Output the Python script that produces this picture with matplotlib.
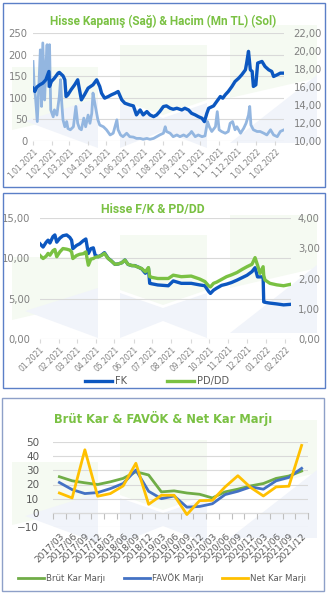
import matplotlib
matplotlib.use("Agg")
import matplotlib.pyplot as plt
import matplotlib.dates as mdates
from matplotlib.patches import Rectangle, Polygon
from matplotlib.ticker import FuncFormatter, FixedLocator
import pandas as pd

# ---- panel 1: closing price (right) & volume (left) ----
price_dates = [
    "2021-01-01", "2021-01-04", "2021-01-07", "2021-01-12", "2021-01-17", "2021-01-22",
    "2021-01-27", "2021-01-28", "2021-01-31", "2021-02-05", "2021-02-11", "2021-02-13",
    "2021-02-19", "2021-02-22", "2021-02-24", "2021-02-27", "2021-03-04", "2021-03-10",
    "2021-03-15", "2021-03-21", "2021-03-26", "2021-04-01", "2021-04-09", "2021-04-15",
    "2021-04-20", "2021-04-23", "2021-04-28", "2021-05-04", "2021-05-09", "2021-05-15",
    "2021-05-20", "2021-05-26", "2021-05-31", "2021-06-08", "2021-06-14", "2021-06-19",
    "2021-06-25", "2021-06-30", "2021-07-06", "2021-07-11", "2021-07-17", "2021-07-22",
    "2021-07-27", "2021-08-02", "2021-08-07", "2021-08-13", "2021-08-18", "2021-08-24",
    "2021-09-01", "2021-09-06", "2021-09-12", "2021-09-17", "2021-09-23", "2021-09-28",
    "2021-10-04", "2021-10-08", "2021-10-12", "2021-10-15", "2021-10-23", "2021-10-28",
    "2021-11-03", "2021-11-07", "2021-11-11", "2021-11-16", "2021-11-22", "2021-11-27",
    "2021-12-03", "2021-12-08", "2021-12-14", "2021-12-16", "2021-12-19", "2021-12-22",
    "2021-12-25", "2021-12-27", "2021-12-31", "2022-01-03", "2022-01-10", "2022-01-15",
    "2022-01-21", "2022-01-26", "2022-01-29", "2022-02-04", "2022-02-09", "2022-02-15",
]
close_price = [
    15.87, 15.50, 15.98, 16.24, 16.43, 16.80, 17.73, 16.06, 16.61, 16.98, 17.54, 17.62,
    17.24, 16.80, 14.94, 15.13, 15.68, 16.24, 16.80, 14.57, 15.13, 15.87, 16.24, 16.80,
    16.06, 15.31, 14.76, 14.94, 15.13, 15.31, 15.50, 14.57, 14.20, 14.01, 13.90, 12.90,
    13.45, 12.90, 13.27, 12.90, 12.71, 12.90, 13.27, 13.83, 13.90, 13.64, 13.53, 13.64,
    13.45, 13.64, 13.45, 13.08, 12.90, 12.71, 12.53, 12.15, 13.08, 13.64, 13.90, 14.38,
    14.94, 14.76, 15.13, 15.50, 16.06, 16.61, 16.98, 17.36, 17.91, 18.66, 19.96, 17.91,
    17.73, 16.06, 16.24, 18.66, 18.84, 18.28, 17.91, 17.73, 17.17, 17.36, 17.54, 17.54,
]
volume_dates = [
    "2021-01-01", "2021-01-03", "2021-01-05", "2021-01-08", "2021-01-11", "2021-01-13",
    "2021-01-15", "2021-01-17", "2021-01-20", "2021-01-22", "2021-01-24", "2021-01-26",
    "2021-01-28", "2021-01-30", "2021-02-03", "2021-02-05", "2021-02-09", "2021-02-13",
    "2021-02-15", "2021-02-17", "2021-02-19", "2021-02-22", "2021-02-25", "2021-02-27",
    "2021-03-03", "2021-03-08", "2021-03-12", "2021-03-15", "2021-03-18", "2021-03-21",
    "2021-03-25", "2021-03-28", "2021-04-01", "2021-04-04", "2021-04-07", "2021-04-09",
    "2021-04-12", "2021-04-15", "2021-04-17", "2021-04-20", "2021-04-26", "2021-05-01",
    "2021-05-07", "2021-05-12", "2021-05-18", "2021-05-20", "2021-05-24", "2021-05-28",
    "2021-06-03", "2021-06-08", "2021-06-14", "2021-06-19", "2021-06-25", "2021-06-30",
    "2021-07-06", "2021-07-11", "2021-07-17", "2021-07-22", "2021-07-27", "2021-08-02",
    "2021-08-05", "2021-08-07", "2021-08-13", "2021-08-18", "2021-08-24", "2021-08-29",
    "2021-09-04", "2021-09-09", "2021-09-15", "2021-09-17", "2021-09-23", "2021-09-28",
    "2021-10-04", "2021-10-09", "2021-10-13", "2021-10-16", "2021-10-20", "2021-10-26",
    "2021-10-29", "2021-11-01", "2021-11-05", "2021-11-11", "2021-11-16", "2021-11-19",
    "2021-11-23", "2021-11-27", "2021-11-30", "2021-12-06", "2021-12-11", "2021-12-15",
    "2021-12-19", "2021-12-21", "2021-12-23", "2021-12-27", "2022-01-02", "2022-01-07",
    "2022-01-13", "2022-01-18", "2022-01-24", "2022-01-29", "2022-02-04", "2022-02-09",
    "2022-02-15",
]
volume = [
    184, 126, 103, 45, 142, 211, 80, 227, 95, 173, 223, 126,
    223, 72, 56, 72, 60, 103, 142, 87, 49, 33, 45, 29,
    26, 33, 80, 41, 29, 26, 53, 33, 60, 41, 64, 111,
    87, 64, 49, 37, 33, 26, 14, 18, 49, 26, 14, 10,
    18, 10, 9, 6, 6, 4, 6, 4, 6, 10, 14, 18,
    33, 22, 18, 10, 14, 10, 14, 10, 18, 22, 10, 14,
    10, 12, 45, 33, 22, 33, 68, 26, 22, 18, 22, 41,
    45, 26, 33, 18, 29, 41, 60, 80, 37, 26, 22, 22,
    18, 14, 26, 14, 10, 22, 26,
]

# ---- panel 2: F/K & PD/DD ----
ratio_dates = [
    "2021-01-01", "2021-01-06", "2021-01-11", "2021-01-14", "2021-01-17", "2021-01-22",
    "2021-01-25", "2021-01-28", "2021-02-02", "2021-02-07", "2021-02-13", "2021-02-18",
    "2021-02-21", "2021-02-23", "2021-03-01", "2021-03-06", "2021-03-12", "2021-03-16",
    "2021-03-20", "2021-03-24", "2021-03-28", "2021-03-31", "2021-04-05", "2021-04-10",
    "2021-04-15", "2021-04-21", "2021-04-26", "2021-05-02", "2021-05-07", "2021-05-13",
    "2021-05-18", "2021-05-23", "2021-05-29", "2021-06-03", "2021-06-09", "2021-06-14",
    "2021-06-20", "2021-06-25", "2021-06-27", "2021-06-30", "2021-07-10", "2021-07-27",
    "2021-08-04", "2021-08-17", "2021-09-02", "2021-09-16", "2021-09-24", "2021-09-30",
    "2021-10-03", "2021-10-08", "2021-10-13", "2021-10-21", "2021-10-29", "2021-11-06",
    "2021-11-15", "2021-11-23", "2021-12-01", "2021-12-09", "2021-12-14", "2021-12-18",
    "2021-12-22", "2021-12-27", "2021-12-28", "2021-12-30", "2022-01-07", "2022-01-18",
    "2022-01-29", "2022-02-10",
]
fk = [
    11.8, 11.4, 12.0, 12.25, 11.9, 12.7, 12.9, 12.0, 12.5, 12.8, 12.9, 12.6,
    12.25, 11.2, 11.6, 11.8, 12.2, 12.4, 10.6, 11.2, 11.3, 10.4, 10.2, 10.4,
    10.7, 10.0, 9.7, 9.25, 9.3, 9.45, 9.8, 9.25, 9.1, 9.1, 8.9, 8.7,
    8.15, 8.8, 6.9, 6.85, 6.7, 6.6, 7.2, 6.9, 6.9, 6.7, 6.6, 5.9,
    5.65, 6.05, 6.3, 6.65, 6.8, 7.0, 7.3, 7.6, 7.9, 8.35, 8.84, 7.7,
    7.7, 7.7, 4.6, 4.55, 4.45, 4.35, 4.23, 4.3,
]
pd_dd = [
    2.76, 2.66, 2.74, 2.83, 2.77, 2.92, 2.96, 2.72, 2.88, 2.99, 2.97, 2.94,
    2.88, 2.66, 2.76, 2.80, 2.82, 2.88, 2.44, 2.64, 2.66, 2.70, 2.72, 2.76,
    2.83, 2.66, 2.58, 2.47, 2.48, 2.52, 2.61, 2.47, 2.43, 2.42, 2.37, 2.33,
    2.22, 2.36, 2.06, 2.04, 2.00, 2.00, 2.11, 2.06, 2.08, 1.98, 1.90, 1.76,
    1.72, 1.84, 1.88, 1.97, 2.06, 2.12, 2.20, 2.30, 2.39, 2.47, 2.69, 2.44,
    2.17, 2.39, 2.10, 1.95, 1.84, 1.79, 1.76, 1.81,
]

# ---- panel 3: margins ----
quarters = [
    "2017/03", "2017/06", "2017/09", "2017/12", "2018/03", "2018/06", "2018/09", "2018/12",
    "2019/03", "2019/06", "2019/09", "2019/12", "2020/03", "2020/06", "2020/09", "2020/12",
    "2021/03", "2021/06", "2021/09", "2021/12",
]
brut_kar = [25.5, 22.6, 21.2, 20.0, 21.9, 24.3, 29.0, 26.7, 14.8, 15.5, 14.0, 13.1,
            10.5, 14.8, 16.7, 19.0, 20.7, 24.3, 26.0, 29.5]
favok = [21.4, 16.4, 13.6, 14.3, 17.1, 20.7, 30.2, 15.2, 10.0, 11.9, 4.0, 4.5,
         6.4, 12.9, 15.2, 18.3, 16.7, 22.6, 25.0, 31.4]
net_kar = [14.0, 10.5, 44.5, 11.7, 13.6, 19.0, 35.0, 6.0, 12.4, 12.4, -1.2, 8.6,
           8.8, 18.3, 26.2, 17.9, 11.9, 18.3, 18.8, 47.6]

W, H = 330, 596
GREEN_T = "#7AC143"
GRID = "#D9D9D9"
TICK = "#808080"
TITLE_FONT = ["Roboto", "DejaVu Sans"]


def box(l, t, r, b):
    return [l / W, 1 - b / H, (r - l) / W, (b - t) / H]


def fpts(pts):
    return [(x / W, 1 - y / H) for x, y in pts]


def comma(fmt):
    return FuncFormatter(lambda v, p: format(v, fmt).replace(".", ","))


def clean(ax):
    ax.patch.set_visible(False)
    for s in ax.spines.values():
        s.set_visible(False)


def rotate(ax):
    for lab in ax.get_xticklabels():
        lab.set_rotation(45)
        lab.set_ha("right")
        lab.set_rotation_mode("anchor")


fig = plt.figure(figsize=(W / 100, H / 100), dpi=100)
fig.patch.set_facecolor("white")

# faint logo watermark behind each panel
LG, LB = "#F5FAF2", "#F1F4FA"
for t in (3, 193, 398):
    for pts, c in [
        ([(12, t + 64), (98, t + 64), (98, t + 107), (12, t + 127)], LG),
        ([(120, t + 42), (207, t + 42), (207, t + 97), (163, t + 112), (120, t + 97)], LG),
        ([(230, t + 22), (317, t + 22), (317, t + 75), (230, t + 95)], LG),
        ([(25, t + 118), (98, t + 95), (98, t + 145)], LB),
        ([(120, t + 100), (163, t + 115), (207, t + 100), (207, t + 145), (163, t + 128),
          (120, t + 145)], LB),
        ([(230, t + 140), (317, t + 72), (317, t + 140)], LB),
    ]:
        fig.add_artist(Polygon(fpts(pts), closed=True, transform=fig.transFigure,
                               fc=c, ec="none", zorder=0))

for l, t, r, b, c in [(3, 3, 325, 187, "#5B7FC7"), (3, 193, 325, 388, "#5B7FC7"),
                      (2, 398, 324, 591, "#8EA0C8")]:
    fig.add_artist(Rectangle((l / W, 1 - b / H), (r - l) / W, (b - t) / H,
                             transform=fig.transFigure, fill=False, ec=c, lw=1.0))

months = pd.date_range("2021-01-01", "2022-02-01", freq="MS")

# ---------- panel 1 ----------
pdt = pd.to_datetime(price_dates)
vdt = pd.to_datetime(volume_dates)
ax1 = fig.add_axes(box(33, 33, 284, 141))
ax1b = ax1.twinx()
ax1.plot(vdt, volume, color="#93B6E0", lw=2.0, zorder=2)
ax1b.plot(pdt, close_price, color="#0C57C0", lw=2.4, zorder=3)
ax1.set_ylim(0, 250)
ax1b.set_ylim(10, 22)
ax1.set_yticks(range(0, 251, 50))
ax1b.set_yticks(range(10, 23, 2))
ax1b.yaxis.set_major_formatter(comma(".2f"))
ax1.set_xlim(pdt[0], pdt[-1])
ax1.grid(axis="y", color=GRID, lw=0.8)
ax1.set_axisbelow(True)
ax1.xaxis.set_major_locator(FixedLocator(mdates.date2num(months)))
ax1.xaxis.set_major_formatter(FuncFormatter(
    lambda v, p: "{0.day}.{0.month:02d}.{0.year}".format(mdates.num2date(v))))
for a in (ax1, ax1b):
    clean(a)
ax1.tick_params(axis="y", length=0, labelsize=7.2, labelcolor=TICK, pad=4)
ax1b.tick_params(axis="y", length=0, labelsize=7.2, labelcolor=TICK, pad=7)
ax1.tick_params(axis="x", length=3, color=GRID, labelsize=5.5, labelcolor=TICK, pad=1)
rotate(ax1)
fig.text(163 / W, 1 - 21 / H, "Hisse Kapanış (Sağ) & Hacim (Mn TL) (Sol)", family=TITLE_FONT,
         weight="bold", size=8.5, color=GREEN_T, ha="center", va="center")

# ---------- panel 2 ----------
rdt = pd.to_datetime(ratio_dates)
ax2 = fig.add_axes(box(40, 218, 291, 339))
ax2b = ax2.twinx()
l_fk, = ax2.plot(rdt, fk, color="#0C57C0", lw=2.4, zorder=2, label="FK")
l_pd, = ax2b.plot(rdt, pd_dd, color="#7AC143", lw=2.4, zorder=3, label="PD/DD")
ax2.set_ylim(0, 15)
ax2b.set_ylim(0, 4)
ax2.set_yticks([0, 5, 10, 15])
ax2b.set_yticks([0, 1, 2, 3, 4])
ax2.yaxis.set_major_formatter(comma(".2f"))
ax2b.yaxis.set_major_formatter(comma(".2f"))
ax2.set_xlim(rdt[0], rdt[-1])
ax2.grid(axis="y", color=GRID, lw=0.8)
ax2.set_axisbelow(True)
ax2.xaxis.set_major_locator(FixedLocator(mdates.date2num(months)))
ax2.xaxis.set_major_formatter(mdates.DateFormatter("%m.%Y"))
for a in (ax2, ax2b):
    clean(a)
ax2.tick_params(axis="y", length=0, labelsize=7.2, labelcolor=TICK, pad=7)
ax2b.tick_params(axis="y", length=0, labelsize=7.2, labelcolor=TICK, pad=5)
ax2.tick_params(axis="x", length=3, color=GRID, labelsize=5.5, labelcolor=TICK, pad=1)
rotate(ax2)
ax2.legend([l_fk, l_pd], ["FK", "PD/DD"], ncol=2, loc="center", frameon=False,
           bbox_to_anchor=(157 / W, 1 - 381 / H), bbox_transform=fig.transFigure,
           fontsize=7, handlelength=2.7, columnspacing=4.2, handletextpad=0.3,
           labelcolor="#595959")
fig.text(153 / W, 1 - 210 / H, "Hisse F/K & PD/DD", family=TITLE_FONT, weight="bold",
         size=8.8, color=GREEN_T, ha="center", va="center")

# ---------- panel 3 ----------
ax3 = fig.add_axes(box(53, 442, 308, 527))
xs = range(len(quarters))
l_b, = ax3.plot(xs, brut_kar, color="#70AD47", lw=2.0, label="Brüt Kar Marjı")
l_f, = ax3.plot(xs, favok, color="#4472C4", lw=2.0, label="FAVÖK Marjı")
l_n, = ax3.plot(xs, net_kar, color="#FFC000", lw=2.0, label="Net Kar Marjı")
ax3.set_xlim(-0.5, len(quarters) - 0.5)
ax3.set_ylim(-10, 50)
ax3.set_yticks(range(-10, 51, 10))
ax3.grid(axis="y", color=GRID, lw=0.8)
ax3.set_axisbelow(True)
clean(ax3)
ax3.set_xticks(list(xs))
ax3.set_xticklabels(quarters, rotation=45, ha="right", rotation_mode="anchor")
ax3.tick_params(axis="x", length=0, labelsize=6.5, labelcolor="#595959", pad=3)
ax3.tick_params(axis="y", length=0, labelsize=7.5, labelcolor="#595959", pad=10)
zero = ax3.secondary_xaxis(1 / 6)
zero.set_xticks([i - 0.5 for i in range(len(quarters) + 1)])
zero.tick_params(axis="x", direction="out", length=4, color="#BFBFBF", labelbottom=False,
                 labeltop=False)
zero.spines["bottom"].set_color("#BFBFBF")
for s in ("top", "left", "right"):
    zero.spines[s].set_visible(False)
ax3.legend([l_b, l_f, l_n], ["Brüt Kar Marjı", "FAVÖK Marjı", "Net Kar Marjı"], ncol=3,
           loc="center", frameon=False, bbox_to_anchor=(162 / W, 1 - 578 / H),
           bbox_transform=fig.transFigure, fontsize=6.2, handlelength=3.0,
           columnspacing=2.2, handletextpad=0.2, labelcolor="#595959")
fig.text(163 / W, 1 - 419 / H, "Brüt Kar & FAVÖK & Net Kar Marjı", weight="bold",
         size=8.3, color=GREEN_T, ha="center", va="center")

fig.savefig("out.png", dpi=100)
